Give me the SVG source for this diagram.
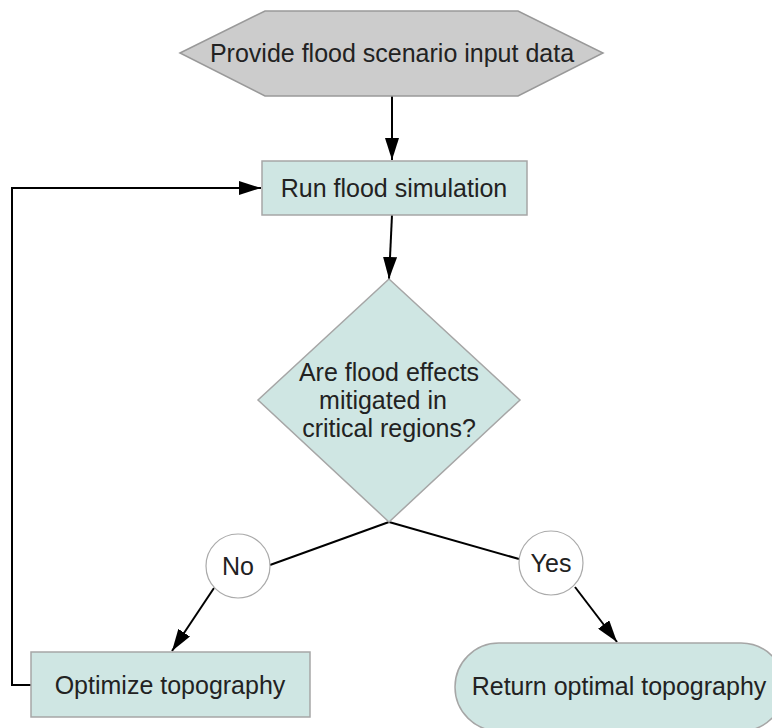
<svg xmlns="http://www.w3.org/2000/svg" width="772" height="728" viewBox="0 0 772 728">
<style>
text{font-family:"Liberation Sans",Arial,sans-serif;font-size:25px;fill:#222;text-anchor:middle}
.proc{fill:#cfe6e3;stroke:#a6a6a6;stroke-width:1.5}
.edge{fill:none;stroke:#000;stroke-width:2}
.lbl{fill:#fff;stroke:#aaa;stroke-width:1.2}
</style>
<defs>
<marker id="ah" markerWidth="22" markerHeight="14" refX="22" refY="7" orient="auto" markerUnits="userSpaceOnUse">
<path d="M0,0 L22,7 L0,14 Z" fill="#000"/>
</marker>
</defs>
<rect width="772" height="728" fill="#fff"/>
<g id="connectors">
<line class="edge" x1="392" y1="96" x2="392" y2="160" marker-end="url(#ah)"/>
<line class="edge" x1="392" y1="215" x2="389" y2="279" marker-end="url(#ah)"/>
<polyline class="edge" points="31,685 12,685 12,188 261,188" marker-end="url(#ah)"/>
<line class="edge" x1="389" y1="522" x2="270" y2="565"/>
<line class="edge" x1="389" y1="522" x2="519" y2="559"/>
<line class="edge" x1="214" y1="588" x2="172" y2="651" marker-end="url(#ah)"/>
<line class="edge" x1="575" y1="587" x2="617" y2="642" marker-end="url(#ah)"/>
</g>
<g id="start">
<polygon points="180,53 265,11 518,11 603,53 518,96 265,96" fill="#cccccc" stroke="#999" stroke-width="1.5"/>
<text x="392" y="62">Provide flood scenario input data</text>
</g>
<g id="simulate">
<rect class="proc" x="262" y="161" width="265" height="54"/>
<text x="394" y="197">Run flood simulation</text>
</g>
<g id="decision">
<polygon class="proc" points="389,279 520,400 389,522 258,400"/>
<text x="389" y="381">Are flood effects</text>
<text x="383" y="409">mitigated in </text>
<text x="389" y="437">critical regions?</text>
</g>
<g id="no">
<circle class="lbl" cx="238" cy="566" r="32"/>
<text x="238" y="575">No</text>
</g>
<g id="yes">
<circle class="lbl" cx="551" cy="563" r="32"/>
<text x="551" y="572">Yes</text>
</g>
<g id="optimize">
<rect class="proc" x="31" y="652" width="279" height="65"/>
<text x="170" y="694">Optimize topography</text>
</g>
<g id="return">
<rect class="proc" x="455" y="643" width="330" height="88" rx="44" ry="44"/>
<text x="619" y="695">Return optimal topography</text>
</g>
</svg>
